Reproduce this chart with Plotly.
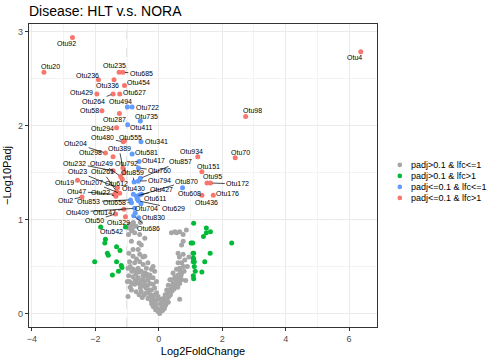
import plotly.graph_objects as go

# not significant, |lfc| <= 1
gray_x = [-0.92, -0.81, -0.94, -0.86, -0.95, -0.76, -0.60, -0.44, -0.55, -0.86, -0.62, -0.81, -0.94,
          -0.65, -0.81, -0.60, -0.44, -0.92, -0.76, -0.97, -0.65, -0.49, -0.34, -0.39, -0.23, -0.18,
          -0.55, -0.44, -0.28, -0.13, -0.81, -0.65, -0.49, -0.34, -0.18, -0.92, -0.76, -0.60, -0.44,
          -0.28, -0.18, -0.07, -0.86, -0.71, -0.55, -0.39, -0.23, -0.13, -0.34, -0.23, -0.18, -0.07,
          -0.13, -0.07, -0.02, 0.03, 0.01, 0.08, 0.14, 0.08, 0.19, 0.24, 0.29, 0.14, 0.03, -0.02,
          0.35, 0.40, 0.45, 0.56, 0.66, 0.72, 0.51, 0.61, 0.72, 0.45, 0.56, 0.66, 0.35, 0.61, 0.72,
          0.82, 0.77, 0.61, 0.72, 0.77, 0.77, 0.56, 0.66, 0.40, 0.51, 0.87, -0.95, -0.90, -0.85,
          -0.70, -0.50, -0.45, -0.35, -0.30, -0.25, -0.20, -0.15, -0.10, -0.05, 0.05, 0.10, 0.20,
          0.25, 0.30, 0.40, 0.50, 0.60, 0.70, 0.80, 0.85, 0.90, 0.95, -0.60, -0.70, -0.50, 0.65,
          0.66, -0.99, -0.97, -0.88, -0.80, -0.84, -0.72, -0.58, -0.40, 0.18, 0.33, 0.48, 0.52,
          -0.90, -0.80, -0.72, -0.62, -0.55, -0.47, -0.40, -0.33, -0.28, -0.22, -0.17, -0.10, -0.08,
          -0.12, -0.30, -0.38, -0.58, -0.66, -0.75, -0.85, -0.62, -0.52, -0.45, 0.12, 0.17, 0.22,
          0.27, 0.32, 0.37, 0.42, 0.46, 0.53, 0.58, 0.63, 0.68, 0.78, 0.20, 0.30, 0.05]
gray_y = [0.95, 0.95, 0.91, 0.88, 0.84, 0.86, 0.84, 0.80, 0.73, 0.77, 0.75, 0.68, 0.64,
          0.68, 0.61, 0.63, 0.61, 0.55, 0.54, 0.48, 0.48, 0.52, 0.54, 0.48, 0.47, 0.50,
          0.45, 0.43, 0.41, 0.45, 0.39, 0.38, 0.36, 0.36, 0.38, 0.34, 0.31, 0.31, 0.29,
          0.32, 0.31, 0.34, 0.25, 0.23, 0.23, 0.22, 0.25, 0.27, 0.16, 0.13, 0.18, 0.22,
          0.09, 0.06, 0.02, 0.00, 0.04, 0.04, 0.07, 0.11, 0.15, 0.18, 0.22, 0.16, 0.15, 0.18,
          0.25, 0.29, 0.32, 0.34, 0.32, 0.36, 0.39, 0.41, 0.43, 0.43, 0.47, 0.48, 0.36, 0.54, 0.54,
          0.57, 0.63, 0.64, 0.73, 0.77, 0.84, 0.86, 0.87, 0.86, 0.87, 0.89, 0.40, 0.28, 0.45,
          0.45, 0.40, 0.34, 0.30, 0.25, 0.20, 0.15, 0.12, 0.10, 0.05, 0.02, 0.08, 0.12,
          0.25, 0.30, 0.36, 0.30, 0.28, 0.40, 0.45, 0.35, 0.50, 0.60, 0.55, 0.58, 0.60, 0.60,
          0.15, 0.34, 0.18, 0.92, 0.97, 0.90, 0.93, 0.97, 0.40, 0.06, 0.20, 0.26, 0.38,
          0.50, 0.47, 0.42, 0.44, 0.35, 0.30, 0.27, 0.22, 0.18, 0.10, 0.07, 0.04, 0.14,
          0.20, 0.38, 0.42, 0.27, 0.33, 0.36, 0.32, 0.20, 0.17, 0.20, 0.03, 0.05, 0.09,
          0.14, 0.18, 0.20, 0.24, 0.27, 0.37, 0.33, 0.37, 0.45, 0.50, 0.20, 0.12, 0.10]

# not significant, |lfc| > 1
green_x = [-1.05, -1.83, -1.68, -1.70, -2.02, -1.62, -1.59, -1.33, -1.22, -1.33, -1.18, -1.16, -1.27,
           -1.46, 1.10, 1.50, 1.63, 1.50, 1.41, 1.02, 1.07, 2.30, 1.08, 1.10, 1.62, 1.09, 1.10, 1.09,
           1.12, 1.45, 1.12, 1.15, 1.36, 1.09, 1.10]
green_y = [0.92, 0.92, 0.79, 0.75, 0.55, 0.64, 0.62, 0.71, 0.67, 0.55, 0.51, 0.49, 0.45,
           0.41, 0.96, 0.91, 0.87, 0.86, 0.82, 0.75, 0.75, 0.75, 0.64, 0.64, 0.64, 0.59, 0.58, 0.55,
           0.55, 0.55, 0.50, 0.45, 0.44, 0.40, 0.37]

# significant, |lfc| <= 1
blue_otu = ["Otu494", "Otu722", "Otu735", "Otu411", "Otu341", "Otu581", "Otu417", "Otu760", "Otu608",
            "Otu859", "Otu794", "Otu857", "Otu430", "Otu870", "Otu427", "Otu611", "Otu853", "Otu658",
            "Otu409", "Otu704", "Otu629", "Otu830", "Otu686", "", ""]
blue_x = [-0.99, -0.84, -0.58, -0.98, -0.56, -0.84, -0.62, -0.64, 0.75,
          -0.78, -0.65, -0.58, -0.80, -0.70, -0.62, -0.56, -0.89, -0.86,
          -0.76, -0.74, -0.64, -0.63, -0.79, -0.55, -0.68]
blue_y = [2.20, 2.20, 2.05, 2.01, 1.83, 1.70, 1.62, 1.55, 1.34,
          1.40, 1.41, 1.44, 1.27, 1.25, 1.26, 1.17, 1.21, 1.18,
          1.12, 1.07, 1.20, 1.02, 1.04, 1.27, 1.22]

# significant, |lfc| > 1
red_otu = ["Otu92", "Otu20", "Otu4", "Otu98", "Otu70", "Otu934", "Otu151", "Otu95", "Otu172", "Otu176",
           "Otu436", "Otu235", "Otu685", "Otu236", "Otu336", "Otu454", "Otu429", "Otu264", "Otu627",
           "Otu58", "Otu287", "Otu294", "Otu480", "Otu555", "Otu204", "Otu298", "Otu232", "Otu389",
           "Otu792", "Otu612", "Otu249", "Otu19", "Otu23", "Otu207", "Otu47", "Otu261", "Otu22",
           "Otu2", "Otu147", "Otu50", "Otu329"]
red_x = [-2.72, -3.62, 6.37, 2.74, 2.41, 1.23, 1.36, 1.52, 1.63, 1.72,
         1.36, -1.25, -1.13, -1.90, -1.41, -1.08, -1.95, -1.44, -1.23,
         -1.79, -1.24, -1.33, -1.12, -1.08, -1.68, -1.44, -1.44, -1.13,
         -1.09, -1.15, -1.20, -2.56, -1.30, -1.23, -1.39, -1.33, -1.35,
         -2.42, -1.10, -1.36, -1.05]
red_y = [2.94, 2.57, 2.79, 2.10, 1.66, 1.67, 1.51, 1.39, 1.39, 1.26,
         1.26, 2.57, 2.57, 2.49, 2.49, 2.43, 2.34, 2.34, 2.34,
         2.16, 2.13, 1.98, 1.83, 1.84, 1.71, 1.67, 1.52, 1.55,
         1.50, 1.43, 1.46, 1.42, 1.34, 1.28, 1.27, 1.30, 1.25,
         1.24, 1.11, 1.06, 1.03]

# where the repelled labels ended up (data units) and whether a segment was drawn
label_at = {
    "Otu92": (-2.91, 2.88, False), "Otu20": (-3.42, 2.63, False), "Otu4": (6.18, 2.73, False),
    "Otu98": (2.94, 2.16, False), "Otu70": (2.59, 1.72, False), "Otu934": (1.03, 1.73, False),
    "Otu151": (1.56, 1.57, False), "Otu95": (1.69, 1.46, False), "Otu172": (2.49, 1.38, True),
    "Otu176": (2.18, 1.28, False), "Otu436": (1.50, 1.18, False), "Otu608": (0.96, 1.28, False),
    "Otu235": (-1.39, 2.64, False), "Otu685": (-0.55, 2.56, True), "Otu236": (-2.25, 2.54, False),
    "Otu336": (-1.60, 2.43, False), "Otu454": (-0.63, 2.46, False), "Otu429": (-2.45, 2.36, False),
    "Otu264": (-2.05, 2.26, True), "Otu627": (-0.76, 2.36, False), "Otu494": (-1.20, 2.26, False),
    "Otu722": (-0.36, 2.20, False), "Otu58": (-2.18, 2.16, False), "Otu287": (-1.39, 2.07, False),
    "Otu735": (-0.39, 2.10, False), "Otu411": (-0.55, 1.98, False), "Otu294": (-1.76, 1.97, False),
    "Otu480": (-1.76, 1.87, True), "Otu555": (-0.89, 1.88, False), "Otu341": (-0.07, 1.83, False),
    "Otu204": (-2.62, 1.81, True), "Otu298": (-2.15, 1.71, False), "Otu389": (-1.25, 1.76, True),
    "Otu581": (-0.39, 1.72, False), "Otu417": (-0.18, 1.63, False), "Otu857": (0.68, 1.62, True),
    "Otu232": (-2.65, 1.60, True), "Otu249": (-1.79, 1.60, True), "Otu792": (-1.02, 1.60, True),
    "Otu760": (0.03, 1.52, True), "Otu23": (-2.56, 1.51, True), "Otu261": (-1.76, 1.51, True),
    "Otu859": (-0.83, 1.50, True), "Otu19": (-2.97, 1.40, False), "Otu207": (-2.12, 1.40, True),
    "Otu612": (-1.32, 1.39, True), "Otu794": (0.03, 1.42, True), "Otu870": (0.89, 1.41, True),
    "Otu430": (-0.79, 1.33, True), "Otu427": (0.10, 1.32, True), "Otu47": (-2.58, 1.30, True),
    "Otu22": (-1.83, 1.29, True), "Otu2": (-2.94, 1.20, True), "Otu853": (-2.20, 1.19, True),
    "Otu658": (-1.39, 1.18, True), "Otu611": (-0.10, 1.22, True), "Otu409": (-2.56, 1.08, True),
    "Otu147": (-1.70, 1.08, True), "Otu704": (-0.39, 1.12, True), "Otu629": (0.45, 1.12, True),
    "Otu50": (-2.02, 0.99, True), "Otu329": (-1.28, 0.97, True), "Otu830": (-0.16, 1.02, True),
    "Otu686": (-0.32, 0.91, True), "Otu542": (-1.49, 0.87, True),
}

FONT = "Liberation Sans, Arial, sans-serif"

fig = go.Figure()
groups = [
    ("padj>0.1 & lfc<=1", gray_x, gray_y, "#A6A6A6"),
    ("padj>0.1 & lfc>1", green_x, green_y, "#00BA38"),
    ("padj<=0.1 & lfc<=1", blue_x, blue_y, "#619CFF"),
    ("padj<=0.1 & lfc>1", red_x, red_y, "#F8766D"),
]
for name, xs, ys, col in groups:
    fig.add_trace(go.Scatter(x=xs, y=ys, mode="markers", name=name, showlegend=False,
                             marker=dict(color=col, size=5, line=dict(width=0))))

# ggplot-style compact legend drawn by hand (plotly's rows are too tall)
for i, (name, xs, ys, col) in enumerate(groups):
    yp = 0.535 - i * 0.0363
    fig.add_shape(type="circle", xref="paper", yref="paper", xsizemode="pixel", ysizemode="pixel",
                  xanchor=1.0655, yanchor=yp, x0=-2.3, x1=2.3, y0=-2.3, y1=2.3,
                  fillcolor=col, line=dict(width=0))
    fig.add_annotation(x=1.093, y=yp, xref="paper", yref="paper", xanchor="left", yanchor="middle",
                       text=name, showarrow=False, font=dict(size=9, color="black", family=FONT))

points = dict(zip(red_otu + blue_otu, zip(red_x + blue_x, red_y + blue_y)))
points["Otu542"] = (green_x[0], green_y[0])

for otu, (lx, ly, seg) in label_at.items():
    px, py = points[otu]
    if seg:
        fig.add_annotation(x=px, y=py, ax=lx, ay=ly, axref="x", ayref="y", text=otu,
                           showarrow=True, arrowhead=0, arrowwidth=0.7, arrowcolor="black",
                           standoff=2, font=dict(size=7, color="black", family=FONT))
    else:
        fig.add_annotation(x=lx, y=ly, text=otu, showarrow=False,
                           font=dict(size=7, color="black", family=FONT))

for v in [-1, 1]:
    fig.add_vline(x=v, line=dict(color="#B0B0B0", width=0.7, dash="dash"), layer="below")
fig.add_hline(y=1, line=dict(color="#B0B0B0", width=0.7, dash="dash"), layer="below")

axis_style = dict(showline=True, mirror=True, linecolor="#333333", linewidth=1.2,
                  ticks="outside", ticklen=3, tickcolor="#333333", zeroline=False,
                  gridcolor="#EBEBEB", gridwidth=1,
                  tickfont=dict(size=9, color="#4D4D4D", family=FONT))
fig.update_xaxes(range=[-4.09, 6.88], dtick=2,
                 minor=dict(dtick=1, showgrid=True, gridcolor="#F3F3F3", gridwidth=0.5),
                 title=dict(text="Log2FoldChange", font=dict(size=11, color="black", family=FONT),
                            standoff=4), **axis_style)
fig.update_yaxes(range=[-0.145, 3.085], dtick=1,
                 minor=dict(dtick=0.5, showgrid=True, gridcolor="#F3F3F3", gridwidth=0.5),
                 title=dict(text="−Log10Padj", font=dict(size=11, color="black", family=FONT),
                            standoff=4), **axis_style)

fig.update_layout(
    width=495, height=360,
    margin=dict(l=29, r=118, t=24, b=33, autoexpand=False),
    plot_bgcolor="white", paper_bgcolor="white",
    title=dict(text="Disease: HLT v.s. NORA", x=29 / 495, xanchor="left", y=0.968, yanchor="middle",
               font=dict(size=14, color="black", family=FONT)),
    showlegend=False,
    font=dict(family=FONT),
)

fig.write_html("out.html", config={"displayModeBar": False},
               post_script="document.body.style.margin='0';")
